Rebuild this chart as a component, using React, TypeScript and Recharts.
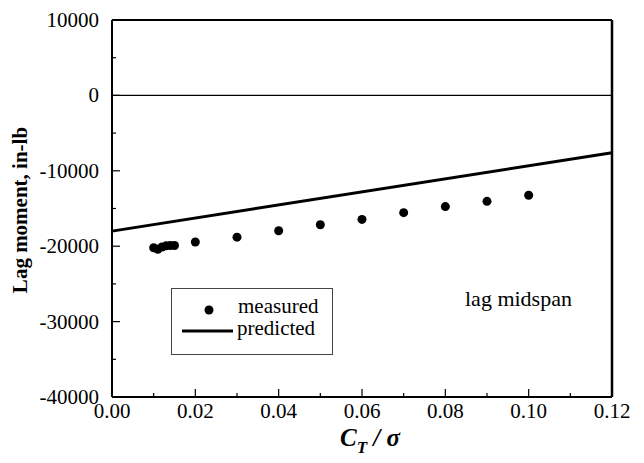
import {
  ComposedChart,
  Scatter,
  Line,
  XAxis,
  YAxis,
  ReferenceLine,
  Legend,
  Label,
} from "recharts";

// data
const measuredX = [0.01, 0.011, 0.012, 0.013, 0.014, 0.015, 0.02, 0.03, 0.04, 0.05, 0.06, 0.07, 0.08, 0.09, 0.1];
const measuredY = [-20200, -20400, -20100, -19950, -19900, -19900, -19450, -18800, -17950, -17150, -16450, -15550, -14750, -14050, -13250];
const predictedX = [0, 0.12];
const predictedY = [-18000, -7600];

const xMajor = [0, 0.02, 0.04, 0.06, 0.08, 0.1, 0.12];
const xMinor = [0.01, 0.03, 0.05, 0.07, 0.09, 0.11];
const yMajor = [10000, 0, -10000, -20000, -30000, -40000];
const yMinor = [5000, -5000, -15000, -25000, -35000];

const measured = measuredX.map((x, i) => ({ x, y: measuredY[i] }));
const predicted = predictedX.map((x, i) => ({ x, y: predictedY[i] }));
const xTicks = [...xMajor, ...xMinor].sort((a, b) => a - b);
const yTicks = [...yMajor, ...yMinor].sort((a, b) => b - a);

const FONT = "Liberation Serif, Times New Roman, serif";
const isMajor = (v: number, list: number[]) => list.some((m) => Math.abs(m - v) < 1e-9);

function BottomTick({ x, y, payload }: any) {
  const major = isMajor(payload.value, xMajor);
  return (
    <g>
      <line x1={x} x2={x} y1={y} y2={y - (major ? 8 : 4)} stroke="#000" strokeWidth={1.2} />
      {major && (
        <text x={x} y={y + 21} textAnchor="middle" style={{ fontFamily: FONT, fontSize: 21 }} fill="#000">
          {payload.value.toFixed(2)}
        </text>
      )}
    </g>
  );
}

function TopTick({ x, y, payload }: any) {
  const major = isMajor(payload.value, xMajor);
  return <line x1={x} x2={x} y1={y} y2={y + (major ? 8 : 4)} stroke="#000" strokeWidth={1.2} />;
}

function LeftTick({ x, y, payload }: any) {
  const major = isMajor(payload.value, yMajor);
  return (
    <g>
      <line x1={x} x2={x + (major ? 8 : 4)} y1={y} y2={y} stroke="#000" strokeWidth={1.2} />
      {major && (
        <text x={x - 13} y={y + 7} textAnchor="end" style={{ fontFamily: FONT, fontSize: 21 }} fill="#000">
          {payload.value}
        </text>
      )}
    </g>
  );
}

function RightTick({ x, y, payload }: any) {
  const major = isMajor(payload.value, yMajor);
  return <line x1={x} x2={x - (major ? 8 : 4)} y1={y} y2={y} stroke="#000" strokeWidth={1.2} />;
}

function LegendBox() {
  return (
    <div
      style={{
        width: 160,
        height: 65,
        border: "1px solid #444",
        background: "#fff",
        fontFamily: FONT,
        fontSize: 21,
        position: "relative",
      }}
    >
      <svg width={70} height={65} style={{ position: "absolute", left: 0, top: 0 }}>
        <circle cx={37} cy={21} r={4.5} fill="#000" />
        <line x1={10} x2={61} y1={42} y2={42} stroke="#000" strokeWidth={3} />
      </svg>
      <div style={{ position: "absolute", left: 66, top: 6, lineHeight: "22px" }}>measured</div>
      <div style={{ position: "absolute", left: 65, top: 28, lineHeight: "22px" }}>predicted</div>
    </div>
  );
}

function XTitle() {
  return (
    <text
      x={370}
      y={446}
      textAnchor="middle"
      style={{ fontFamily: FONT, fontWeight: "bold", fontStyle: "italic", fontSize: 25 }}
      fill="#000"
    >
      C
      <tspan fontSize={17} dy={7}>T</tspan>
      <tspan dy={-7}> / σ</tspan>
    </text>
  );
}

function YTitle() {
  return (
    <text
      x={20}
      y={210}
      transform="rotate(-90 20 210)"
      textAnchor="middle"
      dominantBaseline="central"
      style={{ fontFamily: FONT, fontWeight: "bold", fontSize: 21 }}
      fill="#000"
    >
      Lag moment, in-lb
    </text>
  );
}

export default function App() {
  return (
    <div style={{ position: "absolute", left: 0, top: 0, width: 644, height: 463, background: "#fff", fontFamily: FONT }}>
      <ComposedChart width={644} height={463} margin={{ top: 0, right: 0, bottom: 0, left: 0 }}>
        <XAxis
          xAxisId="b"
          dataKey="x"
          type="number"
          domain={[0, 0.12]}
          ticks={xTicks}
          interval={0}
          height={66}
          tickSize={0}
          tickMargin={0}
          tickLine={false}
          axisLine={{ stroke: "#000", strokeWidth: 2 }}
          tick={<BottomTick />}
        >
          <Label content={<XTitle />} />
        </XAxis>
        <XAxis
          xAxisId="t"
          orientation="top"
          dataKey="x"
          type="number"
          domain={[0, 0.12]}
          ticks={xTicks}
          interval={0}
          height={20}
          tickSize={0}
          tickMargin={0}
          tickLine={false}
          axisLine={{ stroke: "#000", strokeWidth: 2 }}
          tick={<TopTick />}
        />
        <YAxis
          yAxisId="l"
          dataKey="y"
          type="number"
          domain={[-40000, 10000]}
          ticks={yTicks}
          interval={0}
          width={112}
          tickSize={0}
          tickMargin={0}
          tickLine={false}
          axisLine={{ stroke: "#000", strokeWidth: 2 }}
          tick={<LeftTick />}
        >
          <Label content={<YTitle />} />
        </YAxis>
        <YAxis
          yAxisId="r"
          orientation="right"
          dataKey="y"
          type="number"
          domain={[-40000, 10000]}
          ticks={yTicks}
          interval={0}
          width={32}
          tickSize={0}
          tickMargin={0}
          tickLine={false}
          axisLine={{ stroke: "#000", strokeWidth: 2.5 }}
          tick={<RightTick />}
        />
        <ReferenceLine xAxisId="b" yAxisId="l" y={0} stroke="#000" strokeWidth={1.2} />
        <Line
          xAxisId="b"
          yAxisId="l"
          data={predicted}
          dataKey="y"
          type="linear"
          stroke="#000"
          strokeWidth={3}
          dot={false}
          activeDot={false}
          isAnimationActive={false}
          legendType="line"
          name="predicted"
        />
        <Scatter
          xAxisId="b"
          yAxisId="l"
          data={measured}
          dataKey="y"
          fill="#000"
          shape={(p: any) => <circle cx={p.cx} cy={p.cy} r={4.5} fill="#000" />}
          isAnimationActive={false}
          name="measured"
        />
        <Legend
          layout="vertical"
          align="center"
          verticalAlign="middle"
          content={<LegendBox />}
          wrapperStyle={{ left: 171, top: 288, width: 162 }}
        />
      </ComposedChart>
      <div
        style={{
          position: "absolute",
          left: 465,
          top: 286,
          fontFamily: FONT,
          fontSize: 22,
          lineHeight: "26px",
          color: "#000",
        }}
      >
        lag midspan
      </div>
    </div>
  );
}
